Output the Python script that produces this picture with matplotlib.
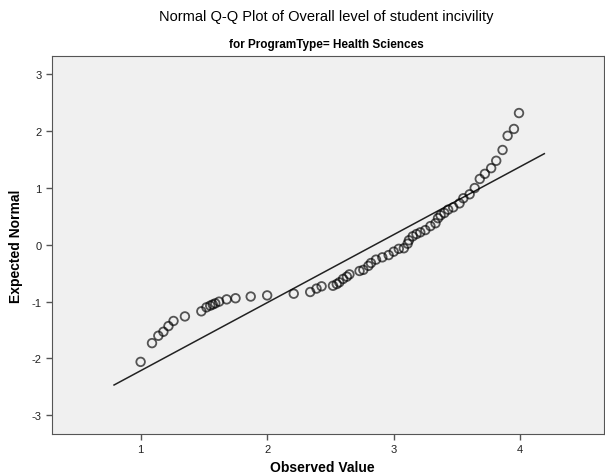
import matplotlib.pyplot as plt
import numpy as np

plt.rcParams['font.family'] = ['Liberation Sans', 'DejaVu Sans']
plt.rcParams['axes.unicode_minus'] = False

observed = [1.00, 1.09, 1.14, 1.18, 1.22, 1.26, 1.35, 1.48, 1.52, 1.55, 1.57, 1.59,
            1.62, 1.68, 1.75, 1.87, 2.00, 2.21, 2.34, 2.39, 2.43, 2.52, 2.55, 2.57,
            2.60, 2.63, 2.65, 2.73, 2.76, 2.80, 2.82, 2.86, 2.91, 2.96, 3.00, 3.04,
            3.08, 3.11, 3.12, 3.15, 3.18, 3.21, 3.25, 3.29, 3.33, 3.35, 3.37, 3.40,
            3.43, 3.47, 3.52, 3.55, 3.60, 3.64, 3.68, 3.72, 3.77, 3.81, 3.86, 3.90,
            3.95, 3.99]
expected = [-2.06, -1.73, -1.60, -1.53, -1.43, -1.34, -1.26, -1.17, -1.10, -1.07, -1.05, -1.03,
            -1.00, -0.96, -0.94, -0.91, -0.89, -0.86, -0.83, -0.77, -0.73, -0.72, -0.69, -0.66,
            -0.60, -0.56, -0.52, -0.46, -0.44, -0.37, -0.32, -0.26, -0.22, -0.18, -0.12, -0.07,
            -0.06, 0.02, 0.08, 0.15, 0.19, 0.22, 0.26, 0.33, 0.38, 0.47, 0.52, 0.56,
            0.62, 0.66, 0.73, 0.82, 0.89, 1.00, 1.16, 1.25, 1.35, 1.48, 1.67, 1.92,
            2.04, 2.32]

# reference line parameters
mean_val = 2.85
sd_val = 0.835
line_x = [0.79, 4.19]

fig = plt.figure(figsize=(6.05, 4.77), dpi=100, facecolor='white')
ax = fig.add_axes([0.086, 0.088, 0.912, 0.792])
ax.set_facecolor('#f0f0f0')

lx = np.array(line_x)
ax.plot(lx, (lx - mean_val) / sd_val, color='#222222', lw=1.1)
ax.scatter(observed, expected, s=38, facecolors='none',
           edgecolors=(0, 0, 0, 0.65), linewidths=1.3, zorder=3)

ax.set_xlim(0.3, 4.66)
ax.set_ylim(-3.33, 3.32)
ax.set_xticks([1, 2, 3, 4])
ax.set_yticks([-3, -2, -1, 0, 1, 2, 3])
ax.tick_params(direction='out', length=4, width=1, color='#555555',
               labelsize=8, labelcolor='#222222')
for sp in ax.spines.values():
    sp.set_color('#555555')

ax.set_xlabel('Observed Value', fontsize=10, fontweight='bold')
ax.set_ylabel('Expected Normal', fontsize=10, fontweight='bold')
ax.xaxis.set_label_coords(0.49, -0.068)
ax.yaxis.set_label_coords(-0.052, 0.5)

fig.text(0.54, 0.965, 'Normal Q-Q Plot of Overall level of student incivility',
         ha='center', va='center', fontsize=10.5)
fig.text(0.54, 0.905, 'for ProgramType= Health Sciences',
         ha='center', va='center', fontsize=8.5, fontweight='bold')

fig.savefig('out.png', dpi=100, facecolor='white')
